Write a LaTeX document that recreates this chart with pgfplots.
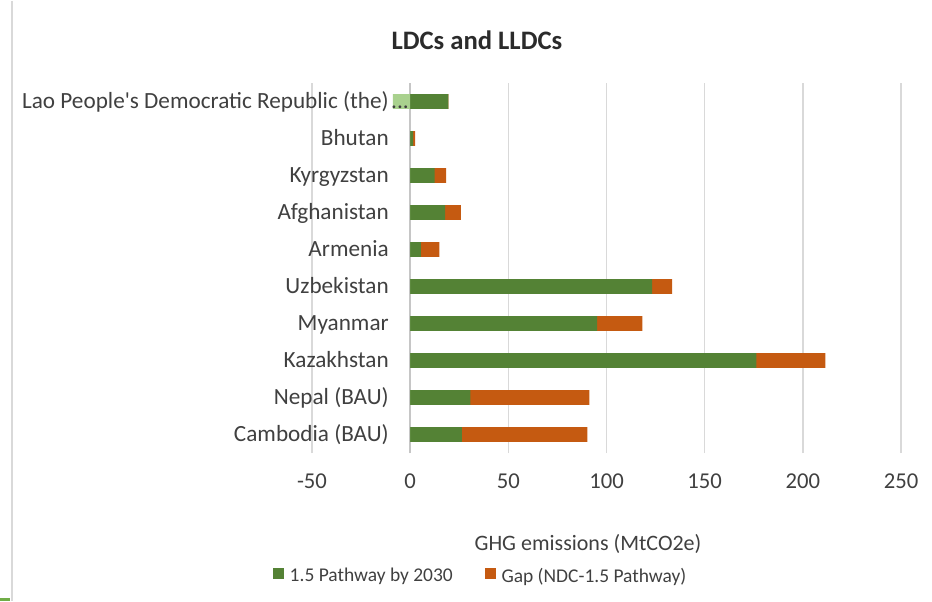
\documentclass[border=0pt]{standalone}
\usepackage{fontspec}
\setmainfont{Carlito}
\usepackage{pgfplots}
\usepackage{pgfplotstable}
\pgfplotsset{compat=1.18}

\definecolor{pathgreen}{HTML}{548235}
\definecolor{gaporange}{HTML}{C55A11}
\definecolor{neggreen}{HTML}{A9D18E}
\definecolor{gridgray}{HTML}{D9D9D9}
\definecolor{zerogray}{HTML}{C6C6C6}
\definecolor{labelgray}{HTML}{404040}
\definecolor{titlegray}{HTML}{2B2B2B}
\definecolor{edgegreen}{HTML}{70AD47}

% 1.5 pathway and gap (NDC - 1.5 pathway), MtCO2e
\pgfplotstableread{
idx green gap
0 26.3 64.0
1 30.7 60.6
2 176.4 35.1
3 95.2 23.1
4 123.2 10.2
5 5.4 9.5
6 17.8 8.0
7 12.4 5.9
8 1.5 1.0
9 19.5 -8.8
}\ldcdata

\begin{document}
\begin{tikzpicture}
\path (0,0) rectangle (699pt,-450pt);
\draw[gridgray, line width=1.5pt] (9pt,0) -- (9pt,-450pt);
\fill[edgegreen] (0,-447.75pt) rectangle (7.5pt,-450pt);
\begin{axis}[
  at={(234pt,-339pt)}, anchor=south west,
  scale only axis, width=441.75pt, height=277.5pt,
  xbar, bar shift=0pt, bar width=10.9pt,
  xmin=-50, xmax=250, ymin=-0.5, ymax=9.5,
  axis line style={draw=none}, tick style={draw=none},
  xtick={-50,0,50,100,150,200,250},
  xticklabels={-50,0,50,100,150,200,250},
  ytick={0,...,9},
  yticklabels={Cambodia (BAU),Nepal (BAU),Kazakhstan,Myanmar,Uzbekistan,Armenia,Afghanistan,Kyrgyzstan,Bhutan,{Lao People\textquotesingle s Democratic Republic (the)}},
  xmajorgrids, major grid style={draw=gridgray, line width=1.2pt},
  extra x ticks={0}, extra x tick labels={},
  extra x tick style={grid=major, major grid style={draw=zerogray, line width=1.7pt}},
  ticklabel style={font=\fontsize{17}{20}\selectfont, text=labelgray, inner sep=0pt},
  yticklabel style={font=\fontsize{17.4}{20}\selectfont, anchor=east, xshift=62pt, yshift=-2pt, text height=0.644em, text depth=0pt},
  xticklabel style={anchor=north, yshift=-15.75pt},
  title={LDCs and LLDCs},
  title style={at={(axis description cs:0.280,1.0946)}, anchor=center, font=\fontsize{20}{24}\selectfont\bfseries, text=titlegray},
  xlabel={GHG emissions (MtCO2e)},
  xlabel style={at={(axis description cs:0.4686,-0.246)}, anchor=center, font=\fontsize{16.5}{20}\selectfont, text=labelgray},
  legend style={at={(axis description cs:0.287,-0.3324)}, anchor=center, draw=none, fill=none,
    legend columns=2, font=\fontsize{14.6}{17}\selectfont, text=labelgray,
    /tikz/every even column/.append style={column sep=22pt}},
  legend image code/.code={\fill[#1] (0pt,-2.6pt) rectangle (8.25pt,5.65pt); \path[draw=none, fill=none] (8.25pt,0) -- (10.5pt,0);},
]
\addplot[fill=gaporange, draw=none, forget plot] table[y=idx, x expr={\thisrow{green}+max(\thisrow{gap},0)}] {\ldcdata};
\addplot[fill=pathgreen, draw=none, forget plot] table[y=idx, x=green] {\ldcdata};
\addplot[fill=neggreen, draw=none, forget plot] table[y=idx, x expr={min(\thisrow{gap},0)}] {\ldcdata};
% truncation dots of the first label, drawn over the bar as in the original
\node[anchor=west, inner sep=0pt, yshift=-2pt, text height=0.644em, text depth=0pt,
  font=\fontsize{17.4}{20}\selectfont, text=labelgray] at (axis cs:-9.8,9) {...};
\addlegendimage{fill=pathgreen, draw=none}
\addlegendentry{1.5 Pathway by 2030}
\addlegendimage{fill=gaporange, draw=none}
\addlegendentry{Gap (NDC-1.5 Pathway)}
\end{axis}
\end{tikzpicture}
\end{document}
